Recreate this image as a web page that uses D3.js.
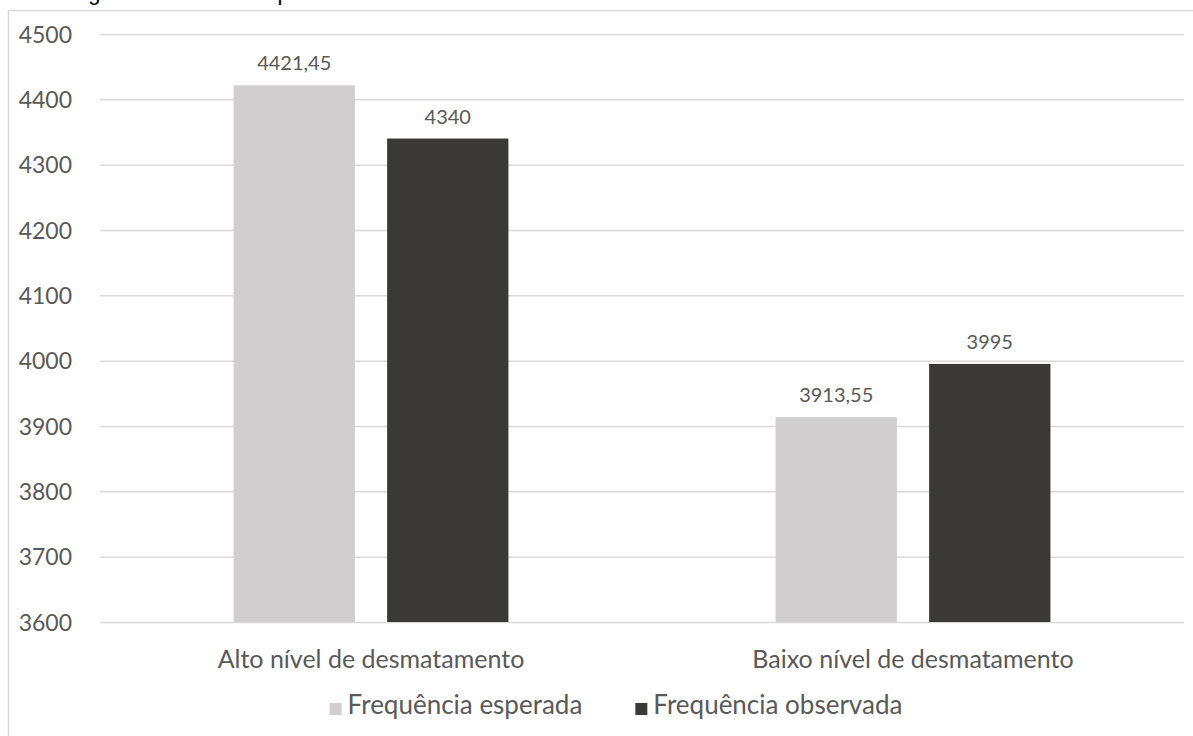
<!DOCTYPE html>
<html>
<head>
<meta charset="utf-8">
<script src="https://cdn.jsdelivr.net/npm/d3@7"></script>
<style>
  html, body { margin: 0; padding: 0; background: #ffffff; }
  svg { display: block; }
</style>
</head>
<body>
<svg id="chart" width="1193" height="736"></svg>
<script>
// Categories, series and values
const categories = ["Alto nível de desmatamento", "Baixo nível de desmatamento"];
const seriesNames = ["Frequência esperada", "Frequência observada"];
const esperada = [4421.45, 3913.55];
const observada = [4340, 3995];
const valueLabels = [["4421,45", "4340"], ["3913,55", "3995"]];
const yTicks = [3600, 3700, 3800, 3900, 4000, 4100, 4200, 4300, 4400, 4500];
const seriesColors = ["#d0cece", "#3b3838"];

const svg = d3.select("#chart");
const FONT = "Lato, 'Open Sans', sans-serif";
const TEXT = "#595959";

// Caption of the figure (runs off the top of the page)
svg.append("text")
  .attr("x", 70).attr("y", -0.3)
  .attr("font-family", "'Liberation Sans', Arial, sans-serif")
  .attr("font-size", 22)
  .attr("fill", "#000")
  .text("Figura 4 – Valores esperados e observados");

// Chart area frame
svg.append("rect")
  .attr("x", 8.5).attr("y", 10.5)
  .attr("width", 1300).attr("height", 900)
  .attr("fill", "#fff")
  .attr("stroke", "#d9d9d9").attr("stroke-width", 1.5);

const plot = { left: 100, right: 1184, top: 34, bottom: 622 };

const y = d3.scaleLinear().domain([3600, 4500]).range([plot.bottom, plot.top]);
const x0 = d3.scaleBand().domain(categories).range([plot.left, plot.right]).padding(0);
const x1 = d3.scaleBand().domain(seriesNames).range([0, x0.bandwidth()])
  .paddingInner(0.21).paddingOuter(0.87);

// Gridlines and value axis labels
const yAxis = d3.axisLeft(y).tickValues(yTicks).tickSize(-(plot.right - plot.left)).tickPadding(28)
  .tickFormat(d3.format("d"));
const gy = svg.append("g").attr("transform", `translate(${plot.left},0)`).call(yAxis);
gy.select(".domain").remove();
gy.selectAll(".tick line").attr("stroke", "#d9d9d9").attr("stroke-width", 1.5);
gy.selectAll(".tick text")
  .attr("font-family", FONT).attr("font-size", 23).attr("fill", TEXT)
  .attr("dy", "0.36em");

// Bars
const rows = categories.map((c, i) => ({
  cat: c,
  vals: [
    { s: seriesNames[0], v: esperada[i], label: valueLabels[i][0], color: seriesColors[0] },
    { s: seriesNames[1], v: observada[i], label: valueLabels[i][1], color: seriesColors[1] }
  ]
}));

const groups = svg.append("g").selectAll("g").data(rows).join("g")
  .attr("transform", d => `translate(${x0(d.cat)},0)`);

groups.selectAll("rect").data(d => d.vals).join("rect")
  .attr("x", d => x1(d.s))
  .attr("y", d => y(d.v))
  .attr("width", x1.bandwidth())
  .attr("height", d => y(3600) - y(d.v))
  .attr("fill", d => d.color);

groups.selectAll("text.val").data(d => d.vals).join("text")
  .attr("class", "val")
  .attr("x", d => x1(d.s) + x1.bandwidth() / 2)
  .attr("y", d => y(d.v) - 15)
  .attr("text-anchor", "middle")
  .attr("font-family", FONT).attr("font-size", 20).attr("fill", TEXT)
  .text(d => d.label);

// Category labels
svg.append("g").selectAll("text").data(categories).join("text")
  .attr("x", d => x0(d) + x0.bandwidth() / 2)
  .attr("y", 668)
  .attr("text-anchor", "middle")
  .attr("font-family", FONT).attr("font-size", 25).attr("fill", TEXT)
  .text(d => d);

// Legend, centred under the chart area
const legend = svg.append("g");
const items = legend.selectAll("g").data(seriesNames).join("g");
items.append("rect")
  .attr("width", 12).attr("height", 12)
  .attr("y", 703)
  .attr("fill", (d, i) => seriesColors[i]);
items.append("text")
  .attr("x", 18).attr("y", 714)
  .attr("font-family", FONT).attr("font-size", 26).attr("fill", TEXT)
  .text(d => d);
const widths = [];
items.each(function () {
  widths.push(d3.select(this).select("text").node().getComputedTextLength() + 18);
});
const gap = 53;
const total = widths.reduce((a, b) => a + b, 0) + gap;
let cursor = 616 - total / 2;
items.attr("transform", (d, i) => {
  const t = `translate(${cursor},0)`;
  cursor += widths[i] + gap;
  return t;
});
</script>
</body>
</html>
